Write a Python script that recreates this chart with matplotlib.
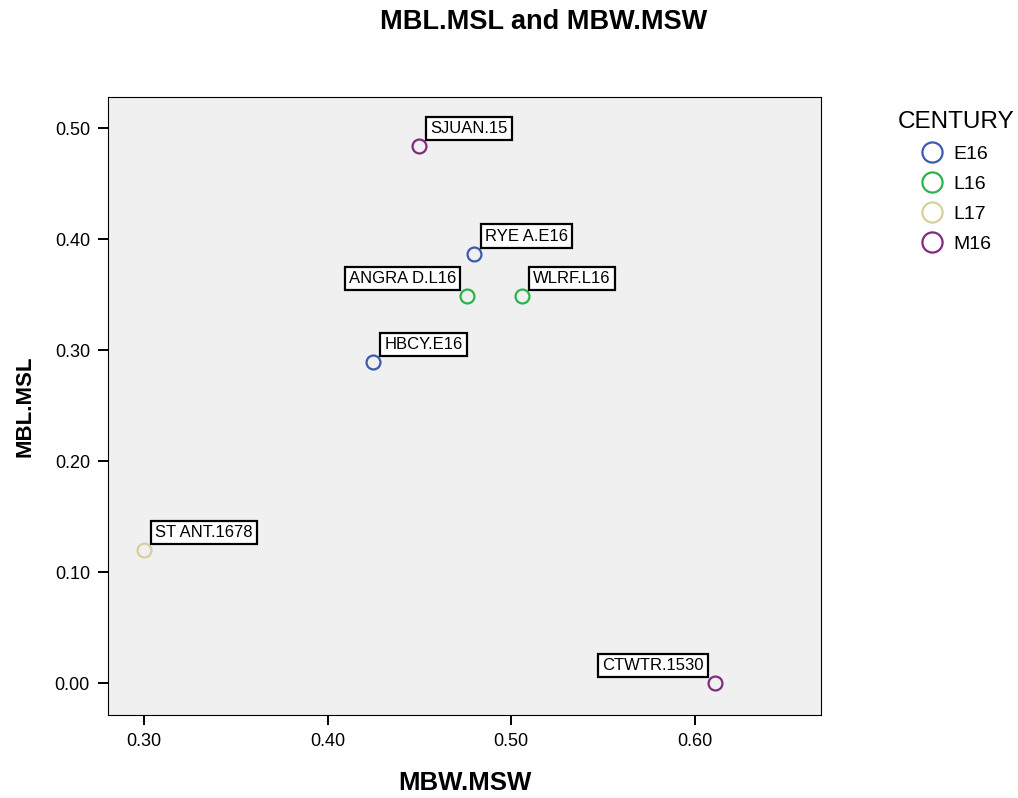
import matplotlib.pyplot as plt
from matplotlib.ticker import FormatStrFormatter

plt.rcParams['font.family'] = ['Liberation Sans', 'DejaVu Sans']

# data
labels = ['SJUAN.15', 'RYE A.E16', 'ANGRA D.L16', 'WLRF.L16', 'HBCY.E16', 'ST ANT.1678', 'CTWTR.1530']
century = ['M16', 'E16', 'L16', 'L16', 'E16', 'L17', 'M16']
mbw_msw = [0.450, 0.480, 0.476, 0.506, 0.425, 0.300, 0.611]
mbl_msl = [0.484, 0.387, 0.349, 0.349, 0.289, 0.120, 0.000]
# labels that sit to the upper left of their point
left_labels = ['ANGRA D.L16', 'CTWTR.1530']

groups = ['E16', 'L16', 'L17', 'M16']
colors = {'E16': '#3e5bab', 'L16': '#2bb34b', 'L17': '#d6d09c', 'M16': '#7e2b80'}

fig = plt.figure(figsize=(10.18, 7.98), dpi=100)
ax = fig.add_axes([0.1061, 0.104, 0.7004, 0.7744])
ax.set_facecolor('#f0f0f0')

for g in groups:
    xs = [x for x, c in zip(mbw_msw, century) if c == g]
    ys = [y for y, c in zip(mbl_msl, century) if c == g]
    ax.plot(xs, ys, 'o', ls='none', mfc='none', mec=colors[g], mew=1.6, ms=10, label=g, zorder=3)

for lab, x, y in zip(labels, mbw_msw, mbl_msl):
    if lab in left_labels:
        off, ha = (-11, 10), 'right'
    else:
        off, ha = (11, 10), 'left'
    ax.annotate(lab, (x, y), xytext=off, textcoords='offset pixels', ha=ha, va='bottom',
                fontsize=12, zorder=4,
                bbox=dict(boxstyle='square,pad=0.25', fc='white', ec='black', lw=1.6))

ax.set_xlim(0.2804, 0.6689)
ax.set_ylim(-0.0288, 0.528)
ax.set_xticks([0.3, 0.4, 0.5, 0.6])
ax.set_yticks([0.0, 0.1, 0.2, 0.3, 0.4, 0.5])
ax.xaxis.set_major_formatter(FormatStrFormatter('%.2f'))
ax.yaxis.set_major_formatter(FormatStrFormatter('%.2f'))
ax.tick_params(direction='out', length=7, width=1.4, labelsize=13, pad=6)
for s in ax.spines.values():
    s.set_linewidth(0.8)

ax.set_xlabel('MBW.MSW', fontsize=18.5, fontweight='bold', labelpad=15)
ax.set_ylabel('MBL.MSL', fontsize=16, fontweight='bold', labelpad=14)
fig.text(544 / 1018, 1 - 22 / 798, 'MBL.MSL and MBW.MSW', ha='center', va='center',
         fontsize=19.5, fontweight='bold')

leg = ax.legend(title='CENTURY', loc='upper left', bbox_to_anchor=(0.872, 0.873),
                bbox_transform=fig.transFigure, frameon=False, fontsize=14,
                title_fontsize=17.5, handletextpad=0.45, handlelength=1.3,
                labelspacing=0.63, borderpad=0, markerscale=1.45)

fig.savefig('out.png', dpi=100)
